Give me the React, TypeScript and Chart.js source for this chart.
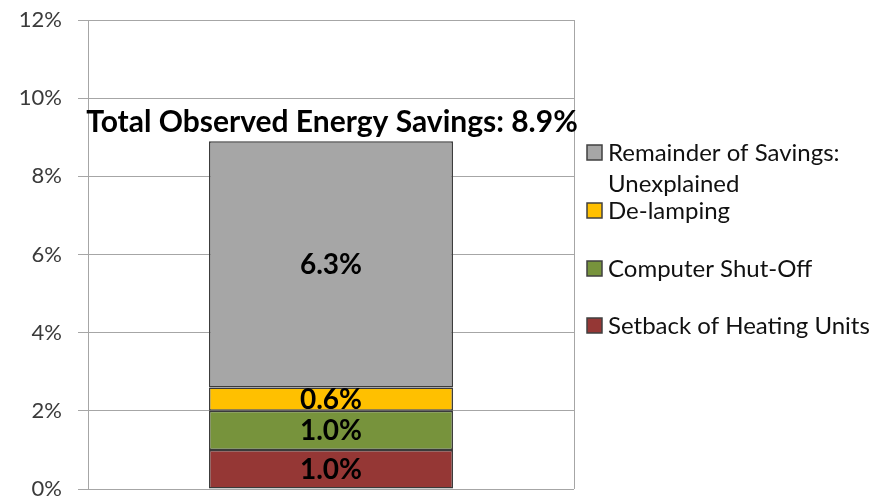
import React, { useEffect, useRef } from "react";
import { Chart, registerables } from "chart.js";

Chart.register(...registerables);

const categories = ["Savings"];
const seriesNames = [
  "Setback of Heating Units",
  "Computer Shut-Off",
  "De-lamping",
  "Remainder of Savings: Unexplained",
];
const setbackValues = [1.0];
const computerValues = [1.0];
const delampingValues = [0.6];
const remainderValues = [6.3];
const seriesColors = ["#953735", "#77933C", "#FFC000", "#A6A6A6"];
const yTicks = [0, 2, 4, 6, 8, 10, 12];
const titlePrefix = "Total Observed Energy Savings: ";
const FONT = "Lato, 'Open Sans', sans-serif";

export default function App() {
  const ref = useRef<HTMLCanvasElement>(null);
  useEffect(() => {
    const canvas = ref.current!;
    const values = [setbackValues, computerValues, delampingValues, remainderValues];

    const overlay = {
      id: "overlay",
      afterDraw(chart: any) {
        const ctx = chart.ctx;
        const area = chart.chartArea;
        ctx.save();
        // right border
        ctx.strokeStyle = "#a6a6a6";
        ctx.lineWidth = 1;
        ctx.beginPath();
        ctx.moveTo(Math.round(area.right) + 0.5, area.top);
        ctx.lineTo(Math.round(area.right) + 0.5, area.bottom);
        ctx.stroke();

        // segment labels
        ctx.fillStyle = "#000";
        ctx.textAlign = "center";
        ctx.textBaseline = "middle";
        ctx.font = `bold 28px ${FONT}`;
        chart.data.datasets.forEach((ds: any, i: number) => {
          const meta = chart.getDatasetMeta(i);
          meta.data.forEach((el: any, j: number) => {
            const v = ds.data[j];
            const cy = (el.y + el.base) / 2;
            ctx.fillText(v.toFixed(1) + "%", el.x, cy + 1);
          });
        });

        // total title
        const last = chart.getDatasetMeta(chart.data.datasets.length - 1).data[0];
        const total = chart.data.datasets.reduce((s: number, d: any) => s + d.data[0], 0);
        ctx.font = `bold 30px ${FONT}`;
        ctx.fillText(titlePrefix + total.toFixed(1) + "%", (area.left + area.right) / 2 + 1, last.y - 19);

        // legend
        ctx.font = `24px ${FONT}`;
        ctx.textAlign = "left";
        const items = [
          { idx: 3, lines: ["Remainder of Savings:", "Unexplained"], y: 152 },
          { idx: 2, lines: ["De-lamping"], y: 210 },
          { idx: 1, lines: ["Computer Shut-Off"], y: 268 },
          { idx: 0, lines: [seriesNames[0]], y: 325 },
        ];
        const lx = area.right + 13;
        items.forEach((it) => {
          ctx.fillStyle = seriesColors[it.idx];
          ctx.fillRect(lx, it.y - 7, 15, 15);
          ctx.strokeStyle = "#404040";
          ctx.lineWidth = 1.5;
          ctx.strokeRect(lx, it.y - 7, 15, 15);
          ctx.fillStyle = "#111";
          it.lines.forEach((ln, k) => {
            ctx.fillText(ln, lx + 21, it.y + k * 31 + 1);
          });
        });
        ctx.restore();
      },
    };

    const chart = new Chart(canvas, {
      type: "bar",
      data: {
        labels: categories,
        datasets: seriesNames.map((name, i) => ({
          label: name,
          data: values[i],
          backgroundColor: seriesColors[i],
          borderColor: "#3a3a3a",
          borderWidth: 1.5,
          borderSkipped: false,
          categoryPercentage: 1,
          barPercentage: 0.502,
        })),
      },
      options: {
        animation: false,
        responsive: false,
        maintainAspectRatio: false,
        layout: { padding: { left: 0, top: 20, right: 304, bottom: 10 } },
        plugins: { legend: { display: false }, tooltip: { enabled: false }, title: { display: false } },
        scales: {
          x: { stacked: true, display: false, grid: { display: false } },
          y: {
            stacked: true,
            min: 0,
            max: 12,
            afterFit: (s: any) => {
              s.width = 88;
              s.paddingTop = 0;
              s.paddingBottom = 0;
            },
            afterBuildTicks: (s: any) => {
              s.ticks = yTicks.map((v) => ({ value: v }));
            },
            ticks: {
              padding: 16,
              color: "#3a3a3a",
              font: { family: FONT, size: 22 },
              callback: (v: any) => v + "%",
            },
            grid: { color: "#a6a6a6", lineWidth: 1, tickLength: 10, drawTicks: true },
            border: { color: "#a6a6a6", width: 1 },
          },
        },
      },
      plugins: [overlay],
    });
    return () => chart.destroy();
  }, []);

  return (
    <div style={{ position: "absolute", left: 0, top: 0, width: 878, height: 499, background: "#fff" }}>
      <canvas ref={ref} width={878} height={499} style={{ width: 878, height: 499 }} />
    </div>
  );
}
